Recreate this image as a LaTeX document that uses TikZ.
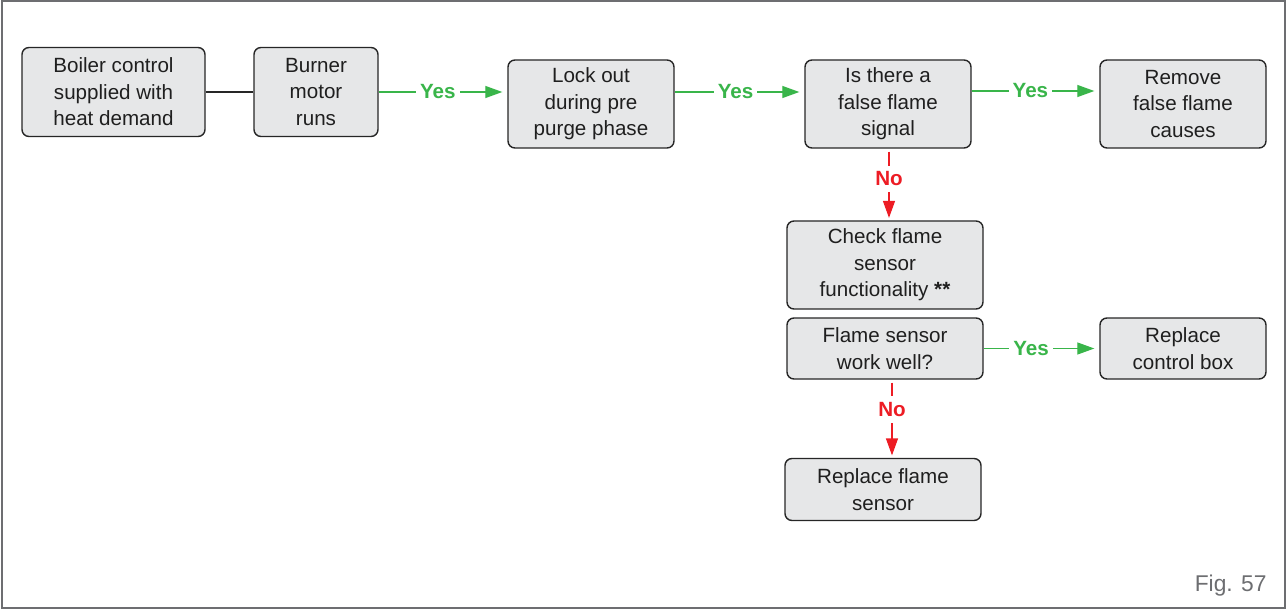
\documentclass[tikz,border=0pt]{standalone}
\usepackage{fontspec}
\setmainfont{Liberation Sans}
\usepackage{xcolor}
\usepackage{tikz}
\usetikzlibrary{arrows.meta, calc}

\definecolor{boxgray}{RGB}{230,231,232}
\definecolor{yesgreen}{RGB}{57,181,74}
\definecolor{nored}{RGB}{237,28,36}
\definecolor{framegray}{RGB}{109,110,113}

\begin{document}
\begin{tikzpicture}[
    x=0.5pt, y=-0.5pt,
    >={Triangle[length=8.5pt,width=6pt]},
    font=\fontsize{10.3}{13.2}\selectfont,
    sbox/.style={draw=black!85, line width=0.7pt, rounded corners=3.5pt, fill=boxgray,
                 align=center, inner sep=0pt, text=black!88},
    yesline/.style={draw=yesgreen, line width=0.6pt, ->, shorten >=2.5pt},
    noline/.style={draw=nored, line width=0.6pt, ->, shorten <=1.5pt, shorten >=1.2pt},
    yeslbl/.style={fill=white, text=yesgreen, inner sep=2pt,
                   font=\fontsize{10.3}{13.2}\selectfont\bfseries},
    nolbl/.style={fill=white, text=nored, inner sep=3pt,
                  font=\fontsize{10.3}{13.2}\selectfont\bfseries},
]
  \useasboundingbox (0,0) rectangle (1287,610);
  % Frame
  \draw[framegray, line width=1pt] (2,1) rectangle (1285,608);
  % Top row
  \node[sbox, minimum width=91.5pt, minimum height=44.5pt] (boiler) at (113.5,92)
       {Boiler control\\supplied with\\heat demand};
  \node[sbox, minimum width=62pt, minimum height=44.5pt] (burner) at (316,92)
       {Burner\\motor\\runs};
  \node[sbox, minimum width=83pt, minimum height=44pt] (lockout) at (591,104)
       {Lock out\\during pre\\purge phase};
  \node[sbox, minimum width=83pt, minimum height=44pt] (falseflame) at (888,104)
       {Is there a\\false flame\\signal};
  \node[sbox, minimum width=83pt, minimum height=44pt] (remove) at (1183,104)
       {Remove\\false flame\\causes};
  % Sensor checks
  \node[sbox, minimum width=98pt, minimum height=44pt] (checksensor) at (885,265)
       {Check flame\\sensor\\functionality \textbf{**}};
  \node[sbox, minimum width=98pt, minimum height=30.5pt] (workwell) at (885,348.5)
       {Flame sensor\\work well?};
  \node[sbox, minimum width=83pt, minimum height=30.5pt] (replacebox) at (1183,348.5)
       {Replace\\control box};
  \node[sbox, minimum width=98pt, minimum height=31pt] (replacesensor) at (883,489.5)
       {Replace flame\\sensor};
  % Caption
  \node[anchor=base east, text=framegray, inner sep=0pt, font=\fontsize{11.4}{13.2}\selectfont]
       (fig) at (1267,591) {Fig. 57};
  % Main path arrows
  \draw[black!85, line width=0.6pt] (boiler) -- (burner);
  \draw[yesline] (burner.east) -- node[yeslbl, pos=0.46] {Yes} (burner.east -| lockout.west);
  \draw[yesline] (lockout.east |- burner) -- node[yeslbl, pos=0.47] {Yes} (falseflame.west |- burner);
  \draw[yesline] ([yshift=0.5pt]falseflame.east |- burner) -- node[yeslbl, pos=0.46] {Yes}
       ([yshift=0.5pt]remove.west |- burner);
  \draw[yesline] (workwell.east) -- node[yeslbl, pos=0.41] {Yes} (replacebox.west);
  % No branches
  \draw[noline] ([xshift=0.5pt]falseflame.south) -- node[nolbl, pos=0.42] {No}
       ([xshift=0.5pt]falseflame.south |- checksensor.north);
  \draw[noline] ([xshift=3.5pt]workwell.south) -- node[nolbl, pos=0.38] {No}
       ([xshift=3.5pt]workwell.south |- replacesensor.north);
\end{tikzpicture}
\end{document}
